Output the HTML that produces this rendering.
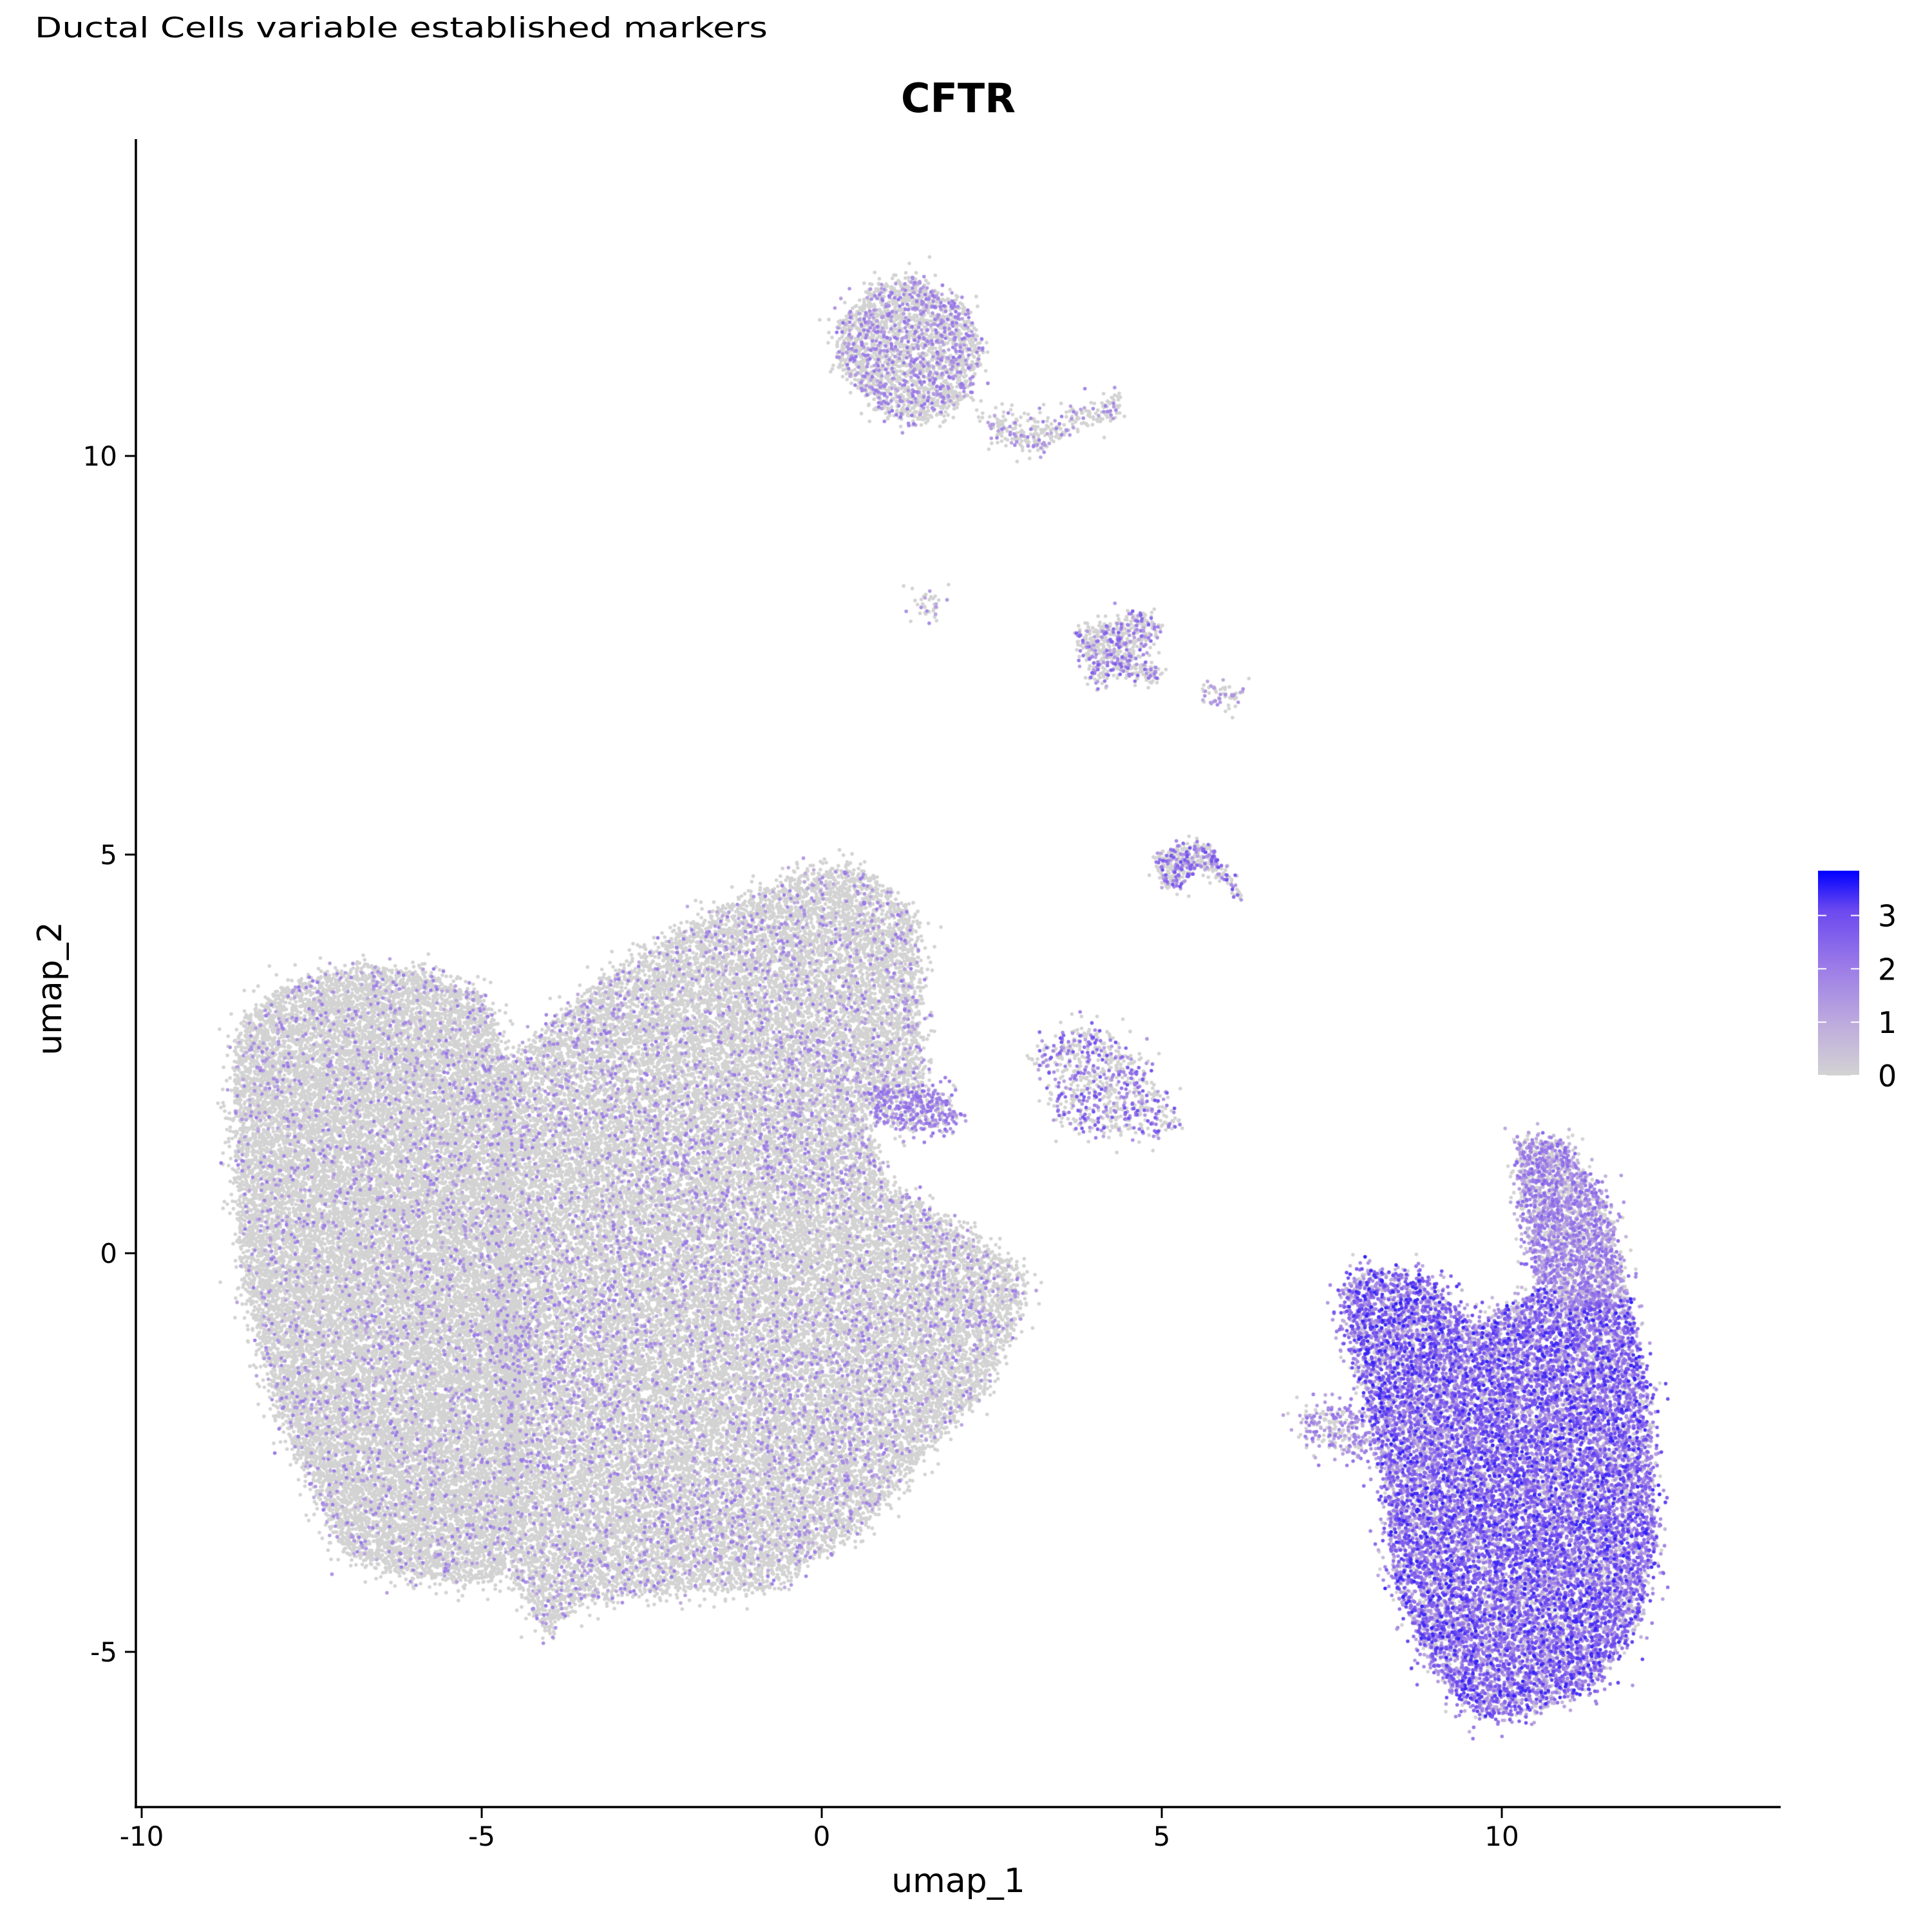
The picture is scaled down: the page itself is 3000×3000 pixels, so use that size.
<!DOCTYPE html>
<html><head><meta charset="utf-8"><style>
html,body{margin:0;padding:0;background:#fff;width:3000px;height:3000px;overflow:hidden}
#wrap{position:relative;width:3000px;height:3000px}
canvas,svg{position:absolute;left:0;top:0}
</style></head><body>
<div id="wrap">
<canvas id="cv" width="3000" height="3000"></canvas>
<svg id="sv" width="3000" height="3000" xmlns="http://www.w3.org/2000/svg">
<defs><linearGradient id="cg" x1="0" y1="1" x2="0" y2="0">
<stop offset="0" stop-color="#d3d3d3"/><stop offset="0.27" stop-color="#bca8de"/><stop offset="0.54" stop-color="#9a7ae8"/><stop offset="0.81" stop-color="#6a48f0"/><stop offset="1" stop-color="#0000ff"/></linearGradient></defs>
<text x="54" y="58" font-family="DejaVu Sans, sans-serif" font-size="44" textLength="1138" lengthAdjust="spacingAndGlyphs" fill="#000">Ductal Cells variable established markers</text>
<text x="1488" y="174" text-anchor="middle" font-family="DejaVu Sans, sans-serif" font-weight="bold" font-size="62" fill="#000">CFTR</text>
<line x1="211" y1="216" x2="211" y2="2808" stroke="#000" stroke-width="3.5"/>
<line x1="209" y1="2806" x2="2765" y2="2806" stroke="#000" stroke-width="3.5"/>
<g id="xt"></g>
<g id="yt"></g>
<text x="1488" y="2938" text-anchor="middle" font-family="DejaVu Sans, sans-serif" font-size="52" fill="#000">umap_1</text>
<text x="0" y="0" transform="translate(95,1535) rotate(-90)" text-anchor="middle" font-family="DejaVu Sans, sans-serif" font-size="52" fill="#000">umap_2</text>
<g>
<rect x="2823" y="1352" width="64" height="318" fill="url(#cg)"/>
<g id="lt"></g>
</g>
</svg>
</div>
<script>
const xTicks=[-10,-5,0,5,10];
const yTicks=[-5,0,5,10];
const legendTicks=[0,1,2,3];
const legendMax=3.84;
// cluster shapes in data units (umap_1, umap_2)
const clusterNames=["left-blob","middle-blob","right-main","right-arm","top-circle","top-tail","mid-star","arc","ring","bridge","tiny-a","tiny-b","right-tail"];
const clusterPolys=[
 [[-8.55,2.89],[-7.92,3.35],[-6.65,3.59],[-5.74,3.51],[-4.93,3.2],[-4.6,2.27],[-4.6,0.26],[-4.4,-1.28],[-4.5,-3.6],[-4.84,-4.14],[-6.11,-4.06],[-7.01,-3.76],[-7.55,-2.83],[-8.1,-1.75],[-8.55,-0.05],[-8.64,2.12]],
 [[-4.75,2.27],[-3.39,3.35],[-1.58,4.28],[-0.13,4.82],[0.6,4.82],[1.41,4.2],[1.5,2.12],[0.6,1.81],[0.96,0.88],[2.41,0.11],[2.95,-0.2],[2.95,-0.66],[2.41,-1.75],[1.68,-2.36],[0.6,-3.45],[-0.85,-4.22],[-1.94,-4.22],[-3.57,-4.37],[-4.02,-4.84],[-4.55,-4.06],[-4.75,-1.28]],
 [[7.6,-0.45],[8.1,-0.2],[8.9,-0.3],[9.6,-0.9],[10.4,-0.5],[11.3,-0.6],[11.9,-0.6],[12.15,-1.75],[12.28,-3.6],[12.01,-4.68],[11.29,-5.46],[10.38,-5.76],[9.66,-5.84],[8.93,-5.15],[8.39,-4.06],[8.21,-2.52],[7.84,-1.44]],
 [[10.2,1.45],[10.9,1.4],[11.5,0.7],[11.9,-0.55],[11.2,-0.75],[10.5,-0.35],[10.3,0.5]],
 [[0.2,11.6],[0.7,12.1],[1.4,12.25],[2.1,11.9],[2.4,11.3],[2.1,10.7],[1.5,10.4],[0.8,10.6],[0.25,11.1]],
 [[2.3,10.6],[2.9,10.45],[3.4,10.45],[3.8,10.6],[4.4,10.8],[4.4,10.5],[3.6,10.3],[3.1,10.0],[2.6,10.2]],
 [[3.7,7.8],[4.2,7.9],[4.8,8.05],[5.0,7.8],[4.6,7.5],[5.1,7.25],[4.9,7.15],[4.3,7.3],[4.05,7.05],[3.9,7.4]],
 [[4.9,4.95],[5.3,5.15],[5.7,5.1],[6.1,4.6],[6.2,4.4],[5.9,4.7],[5.5,4.85],[5.3,4.6],[5.0,4.6]],
 [[3.0,2.4],[3.6,2.85],[4.2,2.8],[4.8,2.3],[5.3,1.6],[4.9,1.5],[4.3,1.5],[3.5,1.65],[3.3,2.0],[3.8,2.2]],
 [[0.7,2.0],[1.3,2.1],[1.9,2.0],[2.0,1.6],[1.4,1.55],[0.8,1.65]],
 [[1.45,8.3],[1.7,8.3],[1.7,8.0],[1.45,8.0]],
 [[5.6,7.1],[6.2,7.15],[6.2,6.9],[5.6,6.9]],
 [[7.0,-2.0],[7.8,-1.9],[8.2,-2.4],[7.9,-2.6],[7.1,-2.3]]
];
const clusterCounts=[24000,38000,16000,2200,2200,300,550,380,750,450,40,60,260];
const clusterZeroFrac=[0.92,0.88,0.15,0.3,0.72,0.75,0.65,0.6,0.6,0.4,0.7,0.6,0.4];
const clusterMeanExpr=[1.5,1.5,2.0,1.5,1.6,1.5,1.8,2.0,2.0,1.8,1.3,1.3,1.6];
const clusterSpread=[0.6,0.6,1.5,1.0,0.6,0.5,0.9,1.0,1.0,0.6,0.4,0.4,0.7];
const clusterJitter=[0.12,0.12,0.12,0.12,0.1,0.1,0.08,0.06,0.12,0.12,0.15,0.1,0.15];

const X0=1276, XS=105.6, Y0=1946, YS=123.8;
function sx(u){return X0+XS*u;}
function sy(v){return Y0-YS*v;}
function lgY(v){return 1670-(v/legendMax)*318;}
const NS="http://www.w3.org/2000/svg";
function mk(tag,attrs,parent,txt){const e=document.createElementNS(NS,tag);for(const k in attrs)e.setAttribute(k,attrs[k]);if(txt!==undefined)e.textContent=txt;parent.appendChild(e);return e;}
const xt=document.getElementById('xt'),yt=document.getElementById('yt'),lt=document.getElementById('lt');
xTicks.forEach(t=>{
 const l=mk('line',{x1:sx(t),x2:sx(t),y1:2806,y2:2823,stroke:'#000','stroke-width':3},xt);
 
 
 const s=mk('text',{x:sx(t),y:2866,'text-anchor':'middle','font-family':'DejaVu Sans, sans-serif','font-size':42,fill:'#000'},xt,String(t));
 
 
});
yTicks.forEach(t=>{
 const l=mk('line',{x1:194,x2:211,y1:sy(t),y2:sy(t),stroke:'#000','stroke-width':3},yt);
 
 
 const s=mk('text',{x:182,y:sy(t)+15,'text-anchor':'end','font-family':'DejaVu Sans, sans-serif','font-size':42,fill:'#000'},yt,String(t));
 
 
});
legendTicks.forEach(t=>{
 const a=mk('line',{x1:2823,x2:2836,y1:lgY(t),y2:lgY(t),stroke:'#fff','stroke-width':2},lt);
 
 
 const b=mk('line',{x1:2874,x2:2887,y1:lgY(t),y2:lgY(t),stroke:'#fff','stroke-width':2},lt);
 
 
 const s=mk('text',{x:2916,y:lgY(t)+17,'font-family':'DejaVu Sans, sans-serif','font-size':46,fill:'#000'},lt,String(t));
 
 
});

function halton(i,b){let f=1,r=0;while(i>0){f/=b;r+=f*(i%b);i=Math.floor(i/b);}return r;}
function inPoly(p,poly){let c=false;for(let i=0,j=poly.length-1;i<poly.length;j=i++){const xi=poly[i][0],yi=poly[i][1],xj=poly[j][0],yj=poly[j][1];if(((yi>p[1])!=(yj>p[1]))&&(p[0]<(xj-xi)*(p[1]-yi)/(yj-yi)+xi))c=!c;}return c;}
const stops=[[0,211,211,211],[0.27,188,168,222],[0.54,154,122,232],[0.81,106,72,240],[1,0,0,255]];
function col(v){const t=Math.max(0,Math.min(1,v/legendMax));for(let k=1;k<stops.length;k++){if(t<=stops[k][0]){const a=stops[k-1],b=stops[k],f=(t-a[0])/(b[0]-a[0]);return 'rgb('+Math.round(a[1]+(b[1]-a[1])*f)+','+Math.round(a[2]+(b[2]-a[2])*f)+','+Math.round(a[3]+(b[3]-a[3])*f)+')';}}return 'rgb(0,0,255)';}
const pts=[];
clusterPolys.forEach((poly,ci)=>{
 let mnx=1e9,mxx=-1e9,mny=1e9,mxy=-1e9;
 poly.forEach(p=>{mnx=Math.min(mnx,p[0]);mxx=Math.max(mxx,p[0]);mny=Math.min(mny,p[1]);mxy=Math.max(mxy,p[1]);});
 let n=0,i=1+ci*7919;
 const j=clusterJitter[ci];
 while(n<clusterCounts[ci]&&i<ci*7919+clusterCounts[ci]*20){
  const p=[mnx+(mxx-mnx)*halton(i,2),mny+(mxy-mny)*halton(i,3)];
  if(inPoly(p,poly)){
   let v=0;
   if(halton(n+3,5)>=clusterZeroFrac[ci]){v=clusterMeanExpr[ci]+clusterSpread[ci]*(halton(n+5,7)-0.5)*2;v=Math.max(0.15,Math.min(legendMax,v));}
   const a=halton(n+1,11),b=halton(n+2,13);
   const jx=(a-0.5)*2*j*Math.pow(b,2)*3, jy=(halton(n+4,17)-0.5)*2*j*Math.pow(b,2)*3;
   pts.push([p[0]+jx,p[1]+jy,v]);n++;
  }
  i++;
 }
});
pts.sort((a,b)=>a[2]-b[2]);
const ctx=document.getElementById('cv').getContext('2d');
for(const p of pts){ctx.fillStyle=col(p[2]);ctx.beginPath();ctx.arc(sx(p[0]),sy(p[1]),2.8,0,6.2832);ctx.fill();}
</script>
</body></html>
